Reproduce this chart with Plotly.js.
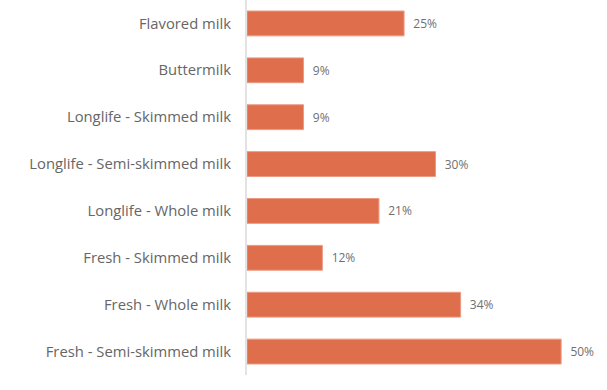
<!DOCTYPE html>
<html>
<head>
<meta charset="utf-8">
<script src="https://cdn.plot.ly/plotly-3.0.1.min.js"></script>
<style>html,body{margin:0;padding:0;background:#fff;}#chart{width:607px;height:390px;}</style>
</head>
<body>
<div id="chart"></div>
<script>
const categories = [
  "Flavored milk",
  "Buttermilk",
  "Longlife - Skimmed milk",
  "Longlife - Semi-skimmed milk",
  "Longlife - Whole milk",
  "Fresh - Skimmed milk",
  "Fresh - Whole milk",
  "Fresh - Semi-skimmed milk"
];
const values = [25, 9, 9, 30, 21, 12, 34, 50];

const trace = {
  type: "bar",
  orientation: "h",
  x: values,
  y: categories,
  marker: { color: "#DF6E4C", line: { color: "#EC9A82", width: 1 } },
  texttemplate: "\u00a0\u00a0%{x}%",
  textposition: "outside",
  cliponaxis: false,
  textfont: { family: "'Open Sans', sans-serif", size: 12, color: "#6f6f6f" },
  hoverinfo: "none"
};

const layout = {
  width: 607,
  height: 390,
  margin: { l: 247, r: 0, t: 0, b: 15 },
  paper_bgcolor: "#fff",
  plot_bgcolor: "#fff",
  bargap: 0.47,
  showlegend: false,
  font: { family: "'Open Sans', sans-serif", color: "#666" },
  xaxis: {
    range: [0, 57.3],
    showgrid: false,
    zeroline: false,
    showticklabels: false,
    showline: false,
    fixedrange: true
  },
  yaxis: {
    autorange: "reversed",
    showgrid: false,
    zeroline: false,
    showline: true,
    linecolor: "#e3e3e3",
    linewidth: 2,
    ticks: "",
    ticklabelstandoff: 11,
    tickfont: { family: "'Open Sans', sans-serif", size: 14.8, color: "#666" },
    fixedrange: true
  }
};

Plotly.newPlot("chart", [trace], layout, { displayModeBar: false, staticPlot: true });
</script>
</body>
</html>
